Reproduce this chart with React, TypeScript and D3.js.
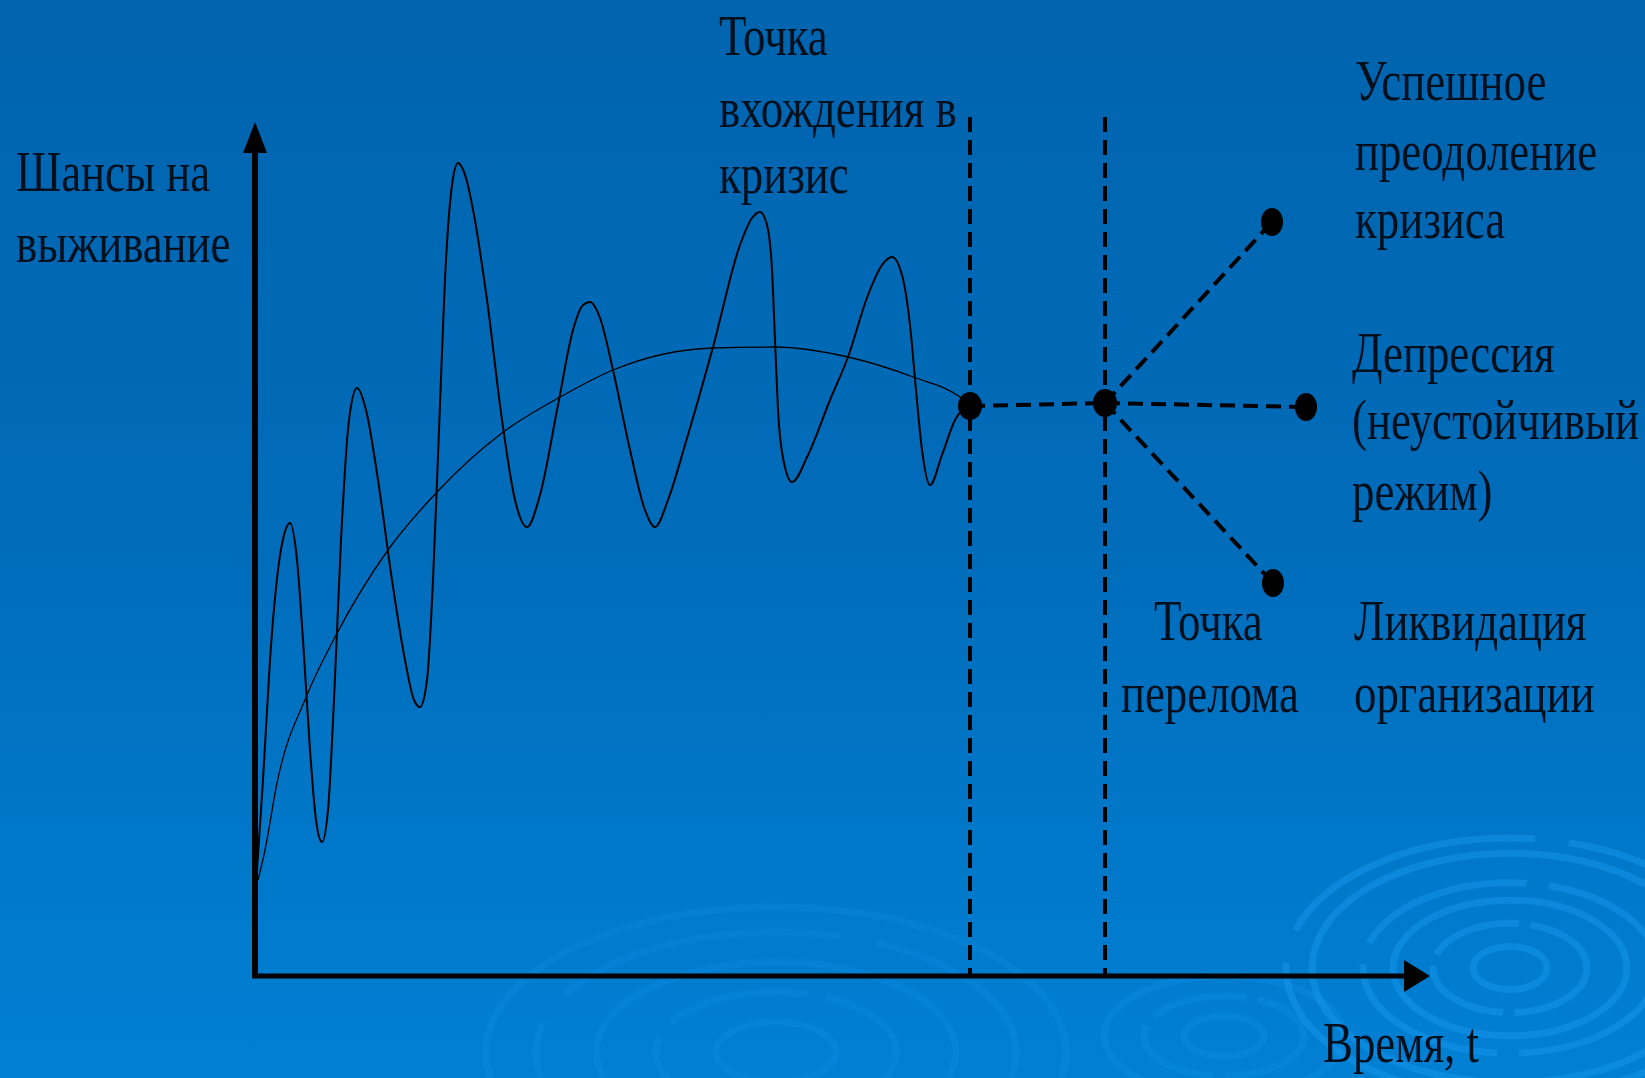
import React from "react";
import * as d3 from "d3";

// ---- data (chart units: t = time from origin, s = survival chance) ----
const oscT = [2, 8, 15, 23, 29, 35, 42, 48, 55, 61, 67, 73, 79, 86, 94, 102, 111, 123, 137, 150, 159, 165, 172, 178, 184, 191, 197, 203, 211, 219, 232, 247, 260, 272, 285, 303, 318, 328, 335, 345, 358, 375, 390, 400, 413, 430, 458, 485, 497, 505, 512, 517, 520, 523, 528, 537, 553, 575, 593, 613, 627, 637, 647, 655, 661, 667, 675, 687, 700, 715];
const oscS = [106, 196, 316, 406, 441, 453, 416, 336, 226, 156, 134, 166, 276, 436, 556, 588, 566, 496, 396, 316, 276, 269, 296, 396, 546, 716, 791, 813, 798, 761, 676, 556, 476, 449, 481, 571, 646, 671, 674, 658, 606, 526, 466, 449, 476, 531, 629, 731, 758, 764, 751, 706, 636, 566, 518, 494, 521, 576, 619, 681, 711, 719, 701, 651, 586, 526, 491, 521, 556, 571];

const trendT = [3, 10, 22, 52, 80, 133, 182, 247, 307, 358, 458, 520, 593, 658, 705, 715];
const trendS = [96, 126, 193, 281, 339, 426, 484, 543, 580, 606, 628, 629, 619, 599, 579, 571];

const phaseT = [715, 850]; // entry into crisis, turning point
const phaseS = [570, 573];
const outcomeT = [1017, 1051, 1018]; // success, depression, liquidation
const outcomeS = [754, 569, 393];

const T_MAX = 1175;
const S_MAX = 855;
const DASH_TOP = 859;

const yLabel = ["Шансы на", "выживание"];
const entryLabel = ["Точка", "вхождения в", "кризис"];
const successLabel = ["Успешное", "преодоление", "кризиса"];
const depressionLabel = ["Депрессия", "(неустойчивый", "режим)"];
const breakLabel = ["Точка", "перелома"];
const liquidationLabel = ["Ликвидация", "организации"];
const xLabel = "Время, t";

const W = 1645;
const H = 1078;

const x = d3.scaleLinear().domain([0, T_MAX]).range([255, 1430]);
const y = d3.scaleLinear().domain([0, S_MAX]).range([976, 121]);

const lineGen = d3
  .line<[number, number]>()
  .x((d) => x(d[0]))
  .y((d) => y(d[1]))
  .curve(d3.curveMonotoneX);

const FONT = "'Liberation Serif', 'Times New Roman', serif";
const SX = 0.8;
const FS = 56;

function Label({ lines, x0, ys }: { lines: string[]; x0: number[] | number; ys: number[] }) {
  return (
    <g>
      {lines.map((l, i) => {
        const xx = Array.isArray(x0) ? x0[i] : x0;
        return (
          <text
            key={i}
            transform={`translate(${xx},${ys[i]}) scale(${SX},1)`}
            fontFamily={FONT}
            fontSize={FS}
            fill="#02101e"
          >
            {l}
          </text>
        );
      })}
    </g>
  );
}

function Ripples({ cx, cy, radii, ratio, opacity }: { cx: number; cy: number; radii: number[]; ratio: number; opacity: number }) {
  return (
    <g opacity={opacity}>
      {radii.map((r, i) => (
        <ellipse
          key={i}
          cx={cx}
          cy={cy}
          rx={r}
          ry={r * ratio}
          fill="none"
          stroke="#1a9af0"
          strokeWidth={7}
          strokeDasharray={i % 2 === 1 ? `${r * 1.2},${r * 0.15}` : undefined}
        />
      ))}
    </g>
  );
}

export default function App() {
  const osc = oscT.map((t, i) => [t, oscS[i]] as [number, number]);
  const trend = trendT.map((t, i) => [t, trendS[i]] as [number, number]);
  const x0 = x(0);
  const y0 = y(0);
  const yTip = y(S_MAX - 1);
  const xTip = x(T_MAX);
  const [bx, by] = [x(phaseT[1]), y(phaseS[1])];

  return (
    <svg
      width={W}
      height={H}
      viewBox={`0 0 ${W} ${H}`}
      style={{ position: "absolute", left: 0, top: 0 }}
    >
      <defs>
        <linearGradient id="bg" x1="0" y1="0" x2="0" y2="1">
          <stop offset="0" stopColor="#0064ae" />
          <stop offset="0.5" stopColor="#006cba" />
          <stop offset="1" stopColor="#0080d4" />
        </linearGradient>
      </defs>
      <rect x={0} y={0} width={W} height={H} fill="url(#bg)" />

      {/* decorative ripples */}
      <Ripples cx={1510} cy={968} radii={[37, 77, 117, 147, 198, 224]} ratio={0.58} opacity={0.45} />
      <Ripples cx={776} cy={1052} radii={[60, 120, 180, 240, 290]} ratio={0.5} opacity={0.18} />
      <Ripples cx={1224} cy={1036} radii={[40, 80, 120]} ratio={0.5} opacity={0.22} />

      {/* vertical dashed phase lines */}
      {phaseT.map((t, i) => (
        <line
          key={i}
          x1={x(t)}
          x2={x(t)}
          y1={y(DASH_TOP)}
          y2={y0}
          stroke="#000"
          strokeWidth={4}
          strokeDasharray="15,8"
        />
      ))}

      {/* trend curve */}
      <path d={lineGen(trend) || ""} fill="none" stroke="#000" strokeWidth={1.3} />
      {/* oscillating curve */}
      <path d={lineGen(osc) || ""} fill="none" stroke="#000" strokeWidth={2} strokeLinejoin="round" />

      {/* dashed scenario lines */}
      <line
        x1={x(phaseT[0])}
        y1={y(phaseS[0])}
        x2={bx}
        y2={by}
        stroke="#000"
        strokeWidth={4}
        strokeDasharray="15,8"
      />
      {outcomeT.map((t, i) => (
        <line
          key={i}
          x1={bx}
          y1={by}
          x2={x(t)}
          y2={y(outcomeS[i])}
          stroke="#000"
          strokeWidth={4}
          strokeDasharray="15,8"
        />
      ))}

      {/* points */}
      {phaseT.map((t, i) => (
        <ellipse key={"p" + i} cx={x(t)} cy={y(phaseS[i])} rx={12} ry={14} fill="#000" />
      ))}
      {outcomeT.map((t, i) => (
        <ellipse key={"o" + i} cx={x(t)} cy={y(outcomeS[i])} rx={11} ry={14} fill="#000" />
      ))}

      {/* axes */}
      <line x1={x0} y1={y0 + 2} x2={x0} y2={yTip + 25} stroke="#000" strokeWidth={6} />
      <path d={`M${x0},${yTip} L${x0 - 12},${yTip + 31} L${x0 + 12},${yTip + 31} Z`} fill="#000" />
      <line x1={x0 - 3} y1={y0} x2={xTip - 20} y2={y0} stroke="#000" strokeWidth={5} />
      <path d={`M${xTip},${y0} L${xTip - 26},${y0 - 16} L${xTip - 26},${y0 + 16} Z`} fill="#000" />

      {/* labels */}
      <Label lines={yLabel} x0={16} ys={[191, 262]} />
      <Label lines={entryLabel} x0={719} ys={[55, 127, 193]} />
      <Label lines={successLabel} x0={1355} ys={[100, 170, 238]} />
      <Label lines={depressionLabel} x0={1352} ys={[372, 439, 510]} />
      <Label lines={breakLabel} x0={[1154, 1121]} ys={[640, 712]} />
      <Label lines={liquidationLabel} x0={1354} ys={[640, 712]} />
      <Label lines={[xLabel]} x0={1323} ys={[1062]} />
    </svg>
  );
}
